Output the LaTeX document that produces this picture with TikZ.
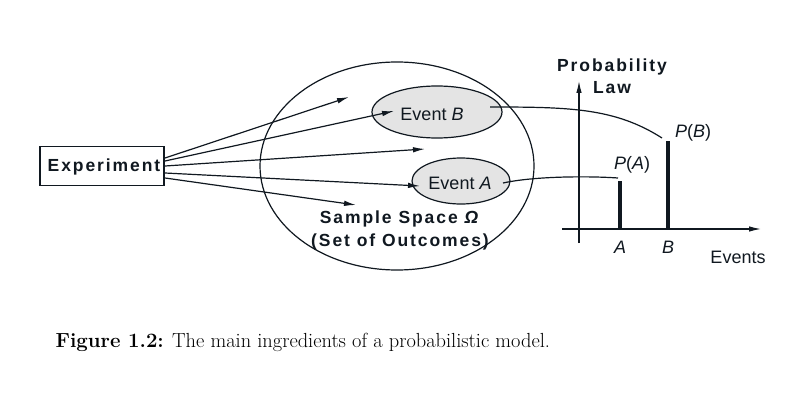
\documentclass[tikz,border=0pt]{standalone}
\usepackage{fontspec}
\setsansfont{Liberation Sans}
\newfontfamily\spacedsans[LetterSpace=11]{Liberation Sans}
\usetikzlibrary{arrows.meta,shapes.geometric}
\definecolor{evfill}{HTML}{E4E4E4}
\definecolor{ink}{HTML}{101820}
\begin{document}
\begin{tikzpicture}[x=1pt,y=-1pt,
  line width=1.2pt, draw=ink,
  lbl/.style={font=\fontsize{18}{20}\selectfont\sffamily, text=ink, inner sep=0},
  blbl/.style={font=\fontsize{17.5}{20}\selectfont\spacedsans\bfseries, text=ink, inner sep=0},
  ev/.style={draw=ink, ellipse, fill=evfill, inner sep=0, line width=1.2pt},
  arr/.style={-{Latex[length=12pt,width=5.5pt]}, draw=ink},
  bar/.style={line width=4.5pt, draw=ink}]
\useasboundingbox (0,0) rectangle (810,401);
\fill[white] (0,0) rectangle (810,401);
% sample space
\node[draw=ink, ellipse, minimum width=274, minimum height=208, line width=1.2pt] (space) at (397,166) {};
\node[ev, minimum width=130, minimum height=52] (evB) at (437,112) {};
\node[lbl] (tB) at (432,114) {Event \textit{B}};
\node[ev, minimum width=98, minimum height=46] (evA) at (461,181) {};
\node[lbl] (tA) at (460,183) {Event \textit{A}};
\node[blbl] (ss1) at (400,219) {Sample Space \textit{\char"03A9}};
\node[blbl] (ss2) at (400,242) {(Set of Outcomes)};
% experiment
\node[draw=ink, line width=1.2pt, minimum width=124, minimum height=39, inner sep=0] (exp) at (102,166) {};
\node[blbl] (expt) at (104,167) {Experiment};
\coordinate (s1) at (165,158);
\coordinate (s2) at (165,161);
\coordinate (s3) at (165,166);
\coordinate (s4) at (165,173);
\coordinate (s5) at (165,178);
\coordinate (e1) at (349,97);
\coordinate (e2) at (394,111);
\coordinate (e3) at (425,149);
\coordinate (e4) at (420,186);
\coordinate (e5) at (356,205);
\draw[arr] (s1) -- (e1);
\draw[arr] (s2) -- (e2);
\draw[arr] (s3) -- (e3);
\draw[arr] (s4) -- (e4);
\draw[arr] (s5) -- (e5);
% probability law axes
\coordinate (yb) at (579,243);
\coordinate (yt) at (579,81);
\coordinate (xl) at (562,229);
\coordinate (xr) at (761,229);
\draw[arr] (yb) -- (yt);
\draw[arr] (xl) -- (xr);
\coordinate (bA0) at (620,229);
\coordinate (bA1) at (620,181);
\coordinate (bB0) at (668,229);
\coordinate (bB1) at (668,141);
\draw[bar] (bA0) -- (bA1);
\draw[bar] (bB0) -- (bB1);
\node[lbl] (pA) at (632,165) {\textit{P}(\textit{A})};
\node[lbl] (pB) at (693,133) {\textit{P}(\textit{B})};
\node[lbl] (lA) at (620,247) {\textit{A}};
\node[lbl] (lB) at (668,247) {\textit{B}};
\node[lbl] (evs) at (738,257) {Events};
\node[blbl] (pl1) at (612,67) {Probability};
\node[blbl] (pl2) at (612,88) {Law};
% mapping curves
\coordinate (cB0) at (490,107);
\coordinate (cB1) at (662,138);
\coordinate (cA0) at (503,183);
\coordinate (cA1) at (618,178);
\draw (cB0) .. controls (570,107) and (615,108) .. (cB1);
\draw (cA0) .. controls (535,176) and (590,176) .. (cA1);
% caption
\node[anchor=west, inner sep=0, font=\fontsize{20.4}{24}\selectfont\rmfamily] (cap) at (55,342) {\textbf{Figure 1.2:} The main ingredients of a probabilistic model.};
\end{tikzpicture}
\end{document}
